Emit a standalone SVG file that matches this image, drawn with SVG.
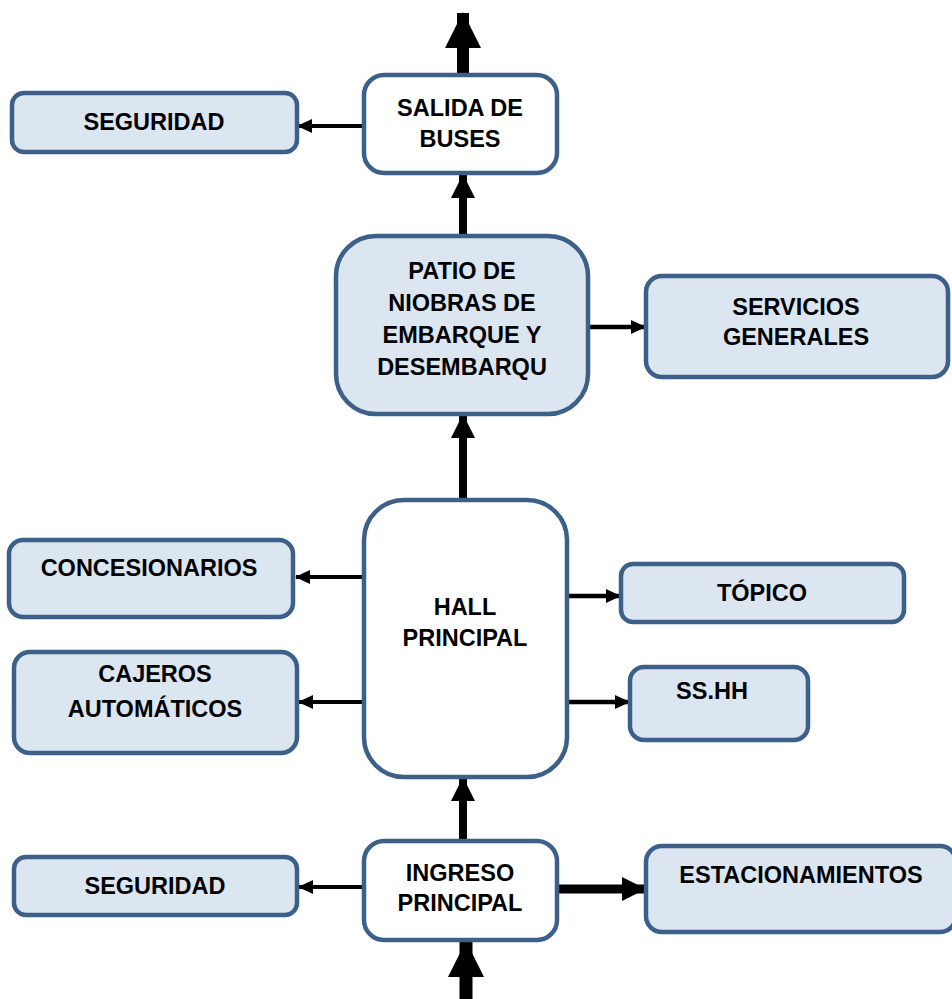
<svg xmlns="http://www.w3.org/2000/svg" width="952" height="999" viewBox="0 0 952 999">
<style>
.b{stroke:#3c6089;stroke-width:4.5;}
.f{fill:#dce6f0;}
.w{fill:#ffffff;}
text{font-family:"Liberation Sans",Arial,sans-serif;font-weight:bold;font-size:23.5px;fill:#000;text-anchor:middle;}
.c{stroke:#000;fill:none;}
</style>
<defs>
<marker id="as" markerUnits="userSpaceOnUse" viewBox="0 0 15 14" markerWidth="15" markerHeight="14" refX="14" refY="7" orient="auto"><path d="M0,0 L15,7 L0,14 z" fill="#000"/></marker>
<marker id="am" markerUnits="userSpaceOnUse" viewBox="0 0 24 24" markerWidth="24" markerHeight="24" refX="23" refY="12" orient="auto"><path d="M0,0 L24,12 L0,24 z" fill="#000"/></marker>
<marker id="al" markerUnits="userSpaceOnUse" viewBox="0 0 36 36" markerWidth="36" markerHeight="36" refX="35" refY="18" orient="auto"><path d="M0,0 L36,18 L0,36 z" fill="#000"/></marker>
</defs>
<g id="connectors">
<line class="c" x1="463" y1="75" x2="463" y2="13" stroke-width="12" marker-end="url(#al)"/>
<line class="c" x1="364" y1="126" x2="298" y2="126" stroke-width="4" marker-end="url(#as)"/>
<line class="c" x1="463" y1="236" x2="463" y2="175" stroke-width="8" marker-end="url(#am)"/>
<line class="c" x1="588" y1="327" x2="645" y2="327" stroke-width="4.5" marker-end="url(#as)"/>
<line class="c" x1="463" y1="500" x2="463" y2="415" stroke-width="8" marker-end="url(#am)"/>
<line class="c" x1="364" y1="577" x2="296" y2="577" stroke-width="4" marker-end="url(#as)"/>
<line class="c" x1="364" y1="702" x2="299" y2="702" stroke-width="4" marker-end="url(#as)"/>
<line class="c" x1="567" y1="596" x2="620" y2="596" stroke-width="4.5" marker-end="url(#as)"/>
<line class="c" x1="567" y1="702" x2="629" y2="702" stroke-width="4.5" marker-end="url(#as)"/>
<line class="c" x1="463" y1="841" x2="463" y2="778" stroke-width="8" marker-end="url(#am)"/>
<line class="c" x1="364" y1="887" x2="299" y2="887" stroke-width="4" marker-end="url(#as)"/>
<line class="c" x1="557" y1="889" x2="645" y2="889" stroke-width="9" marker-end="url(#am)"/>
<line class="c" x1="466" y1="999" x2="466" y2="942" stroke-width="13" marker-end="url(#al)"/>
</g>
<g id="seguridad-top"><rect class="b f" x="12" y="93" width="285" height="59" rx="12"/><text x="154" y="130">SEGURIDAD</text></g>
<g id="salida"><rect class="b w" x="364" y="75" width="193" height="98" rx="20"/><text x="460" y="116">SALIDA DE</text><text x="460" y="147">BUSES</text></g>
<g id="patio"><rect class="b f" x="336" y="236" width="252" height="178" rx="40"/><text x="462" y="279">PATIO DE</text><text x="462" y="311">NIOBRAS DE</text><text x="462" y="343">EMBARQUE Y</text><text x="462" y="375">DESEMBARQU</text></g>
<g id="servicios"><rect class="b f" x="646" y="276" width="302" height="101" rx="16"/><text x="796" y="315">SERVICIOS</text><text x="796" y="345">GENERALES</text></g>
<g id="hall"><rect class="b w" x="364" y="500" width="203" height="277" rx="40"/><text x="465" y="615">HALL</text><text x="465" y="646">PRINCIPAL</text></g>
<g id="concesionarios"><rect class="b f" x="9" y="540" width="284" height="77" rx="14"/><text x="149" y="576">CONCESIONARIOS</text></g>
<g id="cajeros"><rect class="b f" x="14" y="652" width="283" height="101" rx="16"/><text x="155" y="682">CAJEROS</text><text x="155" y="717">AUTOMÁTICOS</text></g>
<g id="topico"><rect class="b f" x="621" y="564" width="283" height="58" rx="12"/><text x="762" y="601">TÓPICO</text></g>
<g id="sshh"><rect class="b f" x="630" y="667" width="178" height="73" rx="14"/><text x="712" y="699">SS.HH</text></g>
<g id="ingreso"><rect class="b w" x="364" y="841" width="193" height="99" rx="20"/><text x="460" y="881">INGRESO</text><text x="460" y="911">PRINCIPAL</text></g>
<g id="seguridad-bottom"><rect class="b f" x="14" y="857" width="283" height="58" rx="12"/><text x="155" y="894">SEGURIDAD</text></g>
<g id="estacionamientos"><rect class="b f" x="646" y="846" width="310" height="86" rx="16"/><text x="801" y="883">ESTACIONAMIENTOS</text></g>
</svg>
